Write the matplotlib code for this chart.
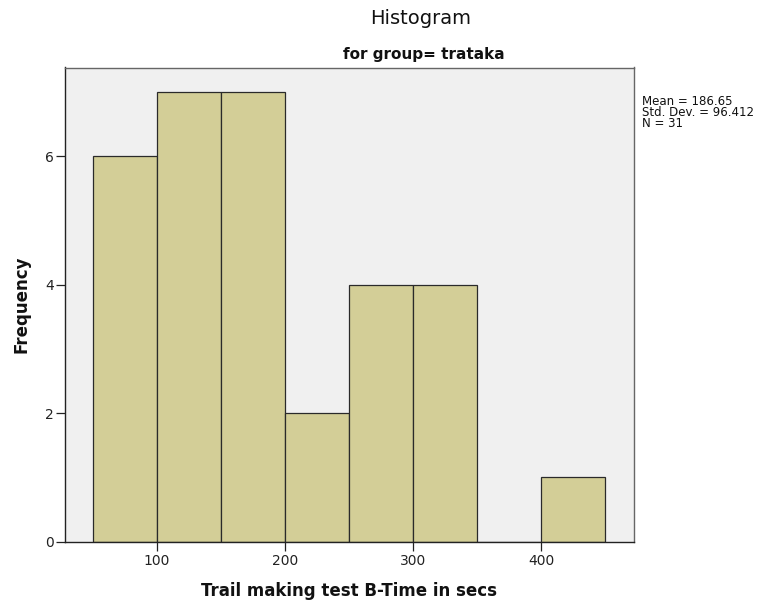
import matplotlib
matplotlib.use("Agg")
import matplotlib.pyplot as plt

# Histogram of Trail making test B times (group: trataka)
bin_edges = [50, 100, 150, 200, 250, 300, 350, 400, 450]
counts = [6, 7, 7, 2, 4, 4, 0, 1]
x_ticks = [100, 200, 300, 400]
y_ticks = [0, 2, 4, 6]
stats_lines = ["Mean = 186.65", "Std. Dev. = 96.412", "N = 31"]

title = "Histogram"
subtitle = "for group= trataka"
x_label = "Trail making test B-Time in secs"
y_label = "Frequency"

plt.rcParams["font.family"] = ["DejaVu Sans"]

W, H = 766, 601
fig = plt.figure(figsize=(W / 100, H / 100), dpi=100)
fig.patch.set_facecolor("white")

ax = fig.add_axes([64.5 / W, 1 - 541.5 / H, (633.5 - 64.5) / W, (541.5 - 67.5) / H])
ax.set_facecolor("#F0F0F0")

widths = [b - a for a, b in zip(bin_edges[:-1], bin_edges[1:])]
ax.bar(bin_edges[:-1], counts, width=widths, align="edge",
       color="#D3CE97", edgecolor="#2a2a2a", linewidth=0.9, zorder=2)

ax.set_xlim(28, 472)
ax.set_ylim(0, 7.38)
ax.set_xticks(x_ticks)
ax.set_yticks(y_ticks)
ax.tick_params(axis="both", direction="out", length=6.3, width=0.9,
               colors="#222222", labelsize=10, labelcolor="#222222")
ax.tick_params(axis="x", pad=2.5)
ax.tick_params(axis="y", pad=1.5)

for side in ("left", "bottom"):
    ax.spines[side].set_color("#222222")
    ax.spines[side].set_linewidth(1.0)
for side in ("top", "right"):
    ax.spines[side].set_color("#666666")
    ax.spines[side].set_linewidth(1.0)

ax.set_xlabel(x_label, fontsize=12, fontweight="bold", labelpad=10, color="#111111")
ax.set_ylabel(y_label, fontsize=12, fontweight="bold", labelpad=10, color="#111111")

fig.text(421 / W, 1 - 18 / H, title, fontsize=14, ha="center", va="center", color="#111111")
fig.text(424 / W, 1 - 54 / H, subtitle, fontsize=11, fontweight="bold",
         ha="center", va="center", color="#111111")

# summary statistics block beside the plot area
fig.text(641.5 / W, 1 - 95 / H, "\n".join(stats_lines), fontsize=8.5,
         ha="left", va="top", linespacing=0.8, color="#111111")

fig.savefig("out.png", dpi=100)
